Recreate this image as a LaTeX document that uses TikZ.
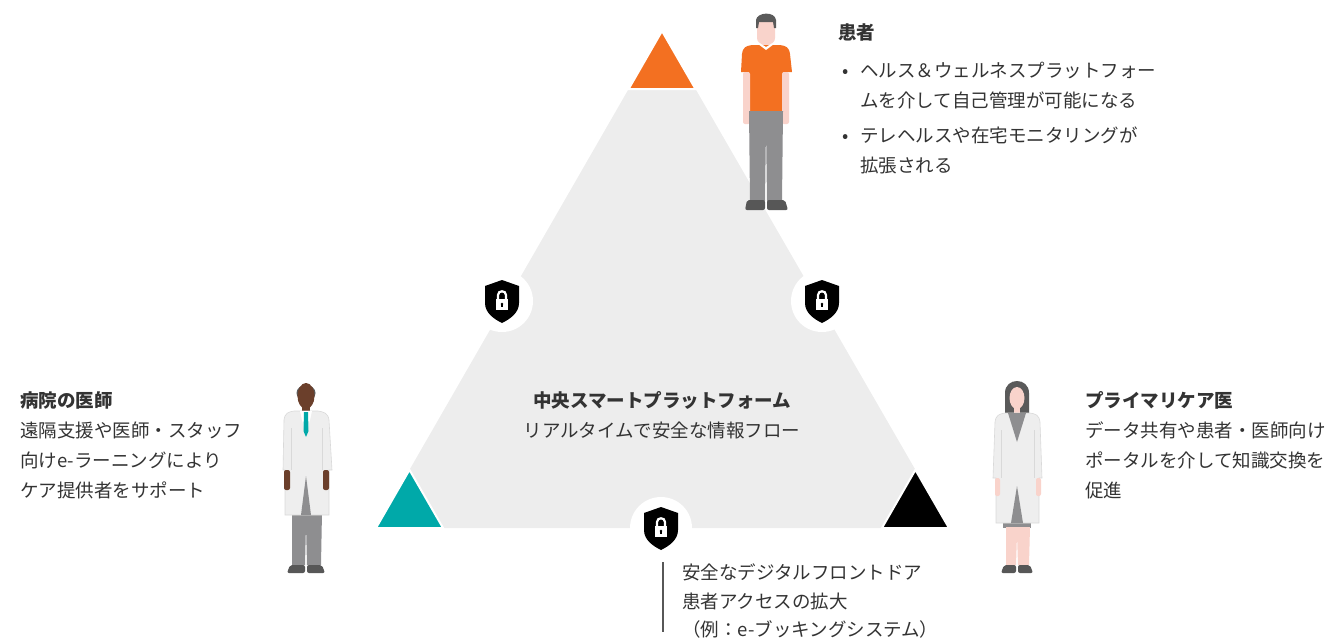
\documentclass[tikz,border=0pt]{standalone}
\usepackage{fontspec}
\setmainfont{Noto Sans CJK JP}
\usetikzlibrary{calc}

\definecolor{trigrey}{HTML}{EDEDED}
\definecolor{ptorange}{HTML}{F37021}
\definecolor{dteal}{HTML}{00A9A9}
\definecolor{txt}{HTML}{333333}
\definecolor{skin}{HTML}{F9D3CB}
\definecolor{dskin}{HTML}{6B3F2B}
\definecolor{pants}{HTML}{8E8E90}
\definecolor{shoe}{HTML}{575757}
\definecolor{hair}{HTML}{5A5A5A}
\definecolor{coat}{HTML}{EEEEEE}
\definecolor{coatline}{HTML}{D9D9D9}

\tikzset{
  txtline/.style={font=\fontsize{18.5}{30}\selectfont, text=txt, inner sep=0pt, anchor=base west},
  heading/.style={txtline, font=\fontsize{18.5}{30}\selectfont\bfseries},
  cornertri/.style={draw=white, line width=2pt},
  coatfill/.style={fill=coat, draw=coatline, line width=0.6pt},
}

\begin{document}
\begin{tikzpicture}[x=1pt,y=-1pt]
  \useasboundingbox (0,0) rectangle (1339,638);

  % platform triangle and its three corners
  \coordinate (T) at (662,31);
  \coordinate (L) at (376,528);
  \coordinate (R) at (949,528);
  \fill[trigrey] (T)--(L)--(R)--cycle;
  \foreach \v/\p/\q/\c in {T/L/R/ptorange, L/T/R/dteal, R/T/L/black}{
    \filldraw[fill=\c, cornertri] (\v) -- ($(\v)!0.117!(\p)$) -- ($(\v)!0.117!(\q)$) -- cycle;
  }

  % shields with padlocks
  \foreach \x/\y in {502/301, 822/301, 661/528}{
    \begin{scope}[shift={(\x,\y)}]
      \fill[white] (0,0) circle (31);
      \fill[black] (0,-21) -- (17,-15) -- (17,2) .. controls (17,12) and (8,18) .. (0,22)
        .. controls (-8,18) and (-17,12) .. (-17,2) -- (-17,-15) -- cycle;
      \draw[white, line width=2.2pt] (-4,-1) -- (-4,-6) .. controls (-4,-11) and (4,-11) .. (4,-6) -- (4,-1);
      \fill[white] (-6,-2) rectangle (6,9);
      \fill[black] (0,3) circle (1.4);
      \fill[black] (-0.6,3) rectangle (0.6,6);
    \end{scope}
  }

  % patient
  \fill[skin, rounded corners=6pt] (757,18) rectangle (775,44);
  \fill[hair] (756,28) -- (756,20) .. controls (757,12) and (775,11) .. (776,20) -- (776,28)
    -- (774,28) -- (773,22) -- (759,22) -- (758,28) -- cycle;
  \fill[skin] (761,40) rectangle (771,48);
  \fill[ptorange] (741,72) -- (742,54) .. controls (743,47) and (746,46) .. (752,45) -- (780,45)
    .. controls (786,46) and (789,47) .. (790,54) -- (792,72) -- (783,72) -- (783,113)
    -- (749,113) -- (749,72) -- cycle;
  \fill[white] (758,44) -- (766,50) -- (774,44) -- (771,44) -- (766,47) -- (761,44) -- cycle;
  \fill[skin, rounded corners=2pt] (743,72) rectangle (750,124);
  \fill[skin, rounded corners=2pt] (782,72) rectangle (789,124);
  \fill[pants] (749,111) -- (783,111) -- (782,201) -- (767,201) -- (766,128) -- (765,201) -- (750,201) -- cycle;
  \fill[shoe, rounded corners=2pt] (745,210) -- (747,200) -- (765,200) -- (765,210) -- cycle;
  \fill[shoe, rounded corners=2pt] (767,210) -- (767,200) -- (785,200) -- (788,210) -- cycle;

  % hospital doctor
  \fill[hair] (306,393) ellipse [x radius=9.5, y radius=8];
  \fill[dskin] (306,396) ellipse [x radius=8.5, y radius=13];
  \fill[dskin] (302,404) rectangle (310,413);
  \fill[pants] (292,512) -- (322,512) -- (321,565) -- (307,565) -- (306,525) -- (305,565) -- (292,565) -- cycle;
  \filldraw[coatfill] (283,470) -- (284,420) .. controls (285,413) and (288,412) .. (294,411) -- (318,411)
    .. controls (324,412) and (328,413) .. (329,420) -- (332,470) -- (329,470) -- (329,515)
    -- (285,515) -- (285,470) -- cycle;
  \draw[coatline, line width=0.6pt] (291,428) -- (291,470) (322,428) -- (322,470);
  \fill[white] (300,411) -- (312,411) -- (306,438) -- cycle;
  \fill[dteal] (304,412) -- (308,412) -- (308.5,431) -- (306,437) -- (303.5,431) -- cycle;
  \fill[pants] (306,476) -- (311,515) -- (301,515) -- cycle;
  \fill[dskin, rounded corners=2pt] (284,470) rectangle (290,490);
  \fill[dskin, rounded corners=2pt] (323,470) rectangle (329,490);
  \fill[shoe, rounded corners=2pt] (287,573) -- (290,565) -- (305,565) -- (305,573) -- cycle;
  \fill[shoe, rounded corners=2pt] (307,573) -- (307,565) -- (322,565) -- (325,573) -- cycle;

  % primary care doctor
  \fill[hair] (1005,414) -- (1005,393) .. controls (1005,377) and (1029,377) .. (1029,393) -- (1029,414) -- cycle;
  \fill[skin] (1017,398) ellipse [x radius=7.5, y radius=11];
  \fill[skin] (1014,405) rectangle (1020,414);
  \fill[pants] (1003,505) rectangle (1031,528);
  \filldraw[coatfill] (993,478) -- (995,422) .. controls (996,415) and (999,414) .. (1005,413) -- (1030,413)
    .. controls (1036,414) and (1039,415) .. (1040,422) -- (1042,478) -- (1039,478) -- (1039,523)
    -- (996,523) -- (996,478) -- cycle;
  \draw[coatline, line width=0.6pt] (1001,430) -- (1001,478) (1034,430) -- (1034,478);
  \fill[pants] (1008,413) -- (1026,413) -- (1017,442) -- cycle;
  \fill[pants] (1017,486) -- (1023,523) -- (1011,523) -- cycle;
  \fill[skin, rounded corners=2pt] (995,478) rectangle (1000,496);
  \fill[skin, rounded corners=2pt] (1036,478) rectangle (1041,496);
  \fill[skin] (1006,527) -- (1030,527) -- (1029,565) -- (1018,565) -- (1017,535) -- (1016,565) -- (1006,565) -- cycle;
  \fill[shoe, rounded corners=2pt] (1001,573) -- (1004,565) -- (1016,565) -- (1016,573) -- cycle;
  \fill[shoe, rounded corners=2pt] (1018,573) -- (1018,565) -- (1030,565) -- (1033,573) -- cycle;

  % patient text
  \node[heading] (pat) at (838,39.5) {患者};
  \foreach \y [count=\i] in {77,142}
    \node[txtline, anchor=base] (bul\i) at (846,\y) {•};
  \foreach \t/\y [count=\i] in {ヘルス＆ウェルネスプラットフォー/77, ムを介して自己管理が可能になる/107,
      テレヘルスや在宅モニタリングが/142, 拡張される/172}
    \node[txtline] (pat\i) at (860,\y) {\t};

  % hospital doctor text
  \node[heading] (hosp) at (20,407) {病院の医師};
  \foreach \t/\y [count=\i] in {遠隔支援や医師・スタッフ/437, 向けe-ラーニングにより/467, ケア提供者をサポート/497}
    \node[txtline] (hosp\i) at (20,\y) {\t};

  % platform text
  \node[heading, anchor=base] (plat) at (662,407) {中央スマートプラットフォーム};
  \node[txtline, anchor=base] (plat1) at (662,437) {リアルタイムで安全な情報フロー};

  % primary care text
  \node[heading] (prim) at (1085,407) {プライマリケア医};
  \foreach \t/\y [count=\i] in {データ共有や患者・医師向け/437, ポータルを介して知識交換を/467, 促進/497}
    \node[txtline] (prim\i) at (1085,\y) {\t};

  % front door text
  \coordinate (fd1) at (663,562);
  \coordinate (fd2) at (663,632);
  \draw[shoe, line width=1.2pt] (fd1) -- (fd2);
  \foreach \t/\y [count=\i] in {安全なデジタルフロントドア/579, 患者アクセスの拡大/608, （例：e-ブッキングシステム）/636}
    \node[txtline] (door\i) at (682,\y) {\t};
\end{tikzpicture}
\end{document}
